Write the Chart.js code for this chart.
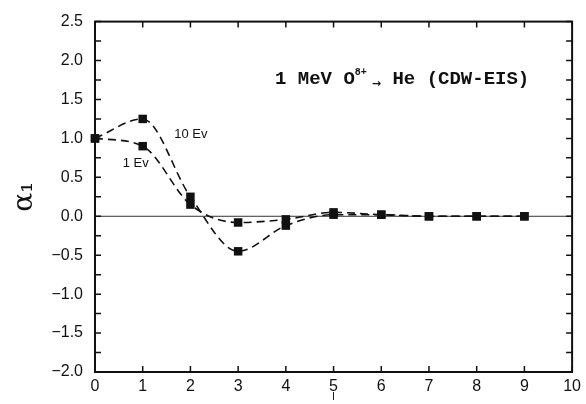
<!DOCTYPE html>
<html>
<head>
<meta charset="utf-8">
<script src="https://cdn.jsdelivr.net/npm/chart.js@4.4.1/dist/chart.umd.min.js"></script>
<style>
  html, body { margin: 0; padding: 0; background: #fff; }
  #wrap { width: 586px; height: 404px; }
</style>
</head>
<body>
<div id="wrap"><canvas id="alphaChart" width="586" height="404"></canvas></div>
<script>
// angular momentum l, and alpha_1 for the two energy resolutions
const lValues  = [0, 1, 2, 3, 4, 5, 6, 7, 8, 9];
const alpha10  = [1.0, 1.25, 0.25, -0.45, -0.12, 0.02, 0.02, 0.0, 0.0, 0.0];
const alpha1   = [1.0, 0.90, 0.15, -0.08, -0.04, 0.05, 0.02, 0.0, 0.0, 0.0];
const curveLabels = ["10 Ev", "1 Ev"];
const labelSpots  = [[1.66, 1.05], [0.58, 0.68]];

const INK = "#111";

function toPoints(ys) {
  return lValues.map((l, i) => ({ x: l, y: ys[i] }));
}

// ── frame, inward ticks, zero line and annotations ───────────
const framePlugin = {
  id: "frame",
  beforeDatasetsDraw(chart) {
    const { ctx, chartArea: a, scales } = chart;
    const y0 = scales.y.getPixelForValue(0);
    ctx.save();
    ctx.strokeStyle = "#333";
    ctx.lineWidth = 1;
    ctx.beginPath();
    ctx.moveTo(a.left, y0);
    ctx.lineTo(a.right, y0);
    ctx.stroke();
    ctx.restore();
  },
  afterDraw(chart) {
    const { ctx, chartArea: a, scales } = chart;
    ctx.save();
    ctx.strokeStyle = INK;
    ctx.lineWidth = 2;
    ctx.strokeRect(a.left, a.top, a.right - a.left, a.bottom - a.top);

    ctx.lineWidth = 1.5;
    const len = 6;
    scales.x.ticks.forEach(t => {
      const px = scales.x.getPixelForValue(t.value);
      ctx.beginPath();
      ctx.moveTo(px, a.bottom); ctx.lineTo(px, a.bottom - len);
      ctx.moveTo(px, a.top);    ctx.lineTo(px, a.top + len);
      ctx.stroke();
    });
    scales.y.ticks.forEach(t => {
      const py = scales.y.getPixelForValue(t.value);
      ctx.beginPath();
      ctx.moveTo(a.left, py);  ctx.lineTo(a.left + len, py);
      ctx.moveTo(a.right, py); ctx.lineTo(a.right - len, py);
      ctx.stroke();
    });

    // curve labels
    ctx.fillStyle = INK;
    ctx.font = "13px 'Liberation Sans'";
    ctx.textBaseline = "middle";
    ctx.textAlign = "left";
    curveLabels.forEach((txt, i) => {
      const [lx, ly] = labelSpots[i];
      ctx.fillText(txt, scales.x.getPixelForValue(lx), scales.y.getPixelForValue(ly));
    });

    // reaction annotation
    let x = 275;
    const base = 84;
    ctx.textBaseline = "alphabetic";
    ctx.font = "bold 19px 'Liberation Mono'";
    ctx.fillText("1 MeV O", x, base);
    x += ctx.measureText("1 MeV O").width;
    ctx.font = "bold 10px 'Liberation Mono'";
    ctx.fillText("8+", x, base - 9);
    x += ctx.measureText("8+").width + 5;
    ctx.font = "bold 11px 'DejaVu Sans'";
    ctx.fillText("\u2192", x, base + 3);
    x += ctx.measureText("\u2192").width;
    ctx.font = "bold 19px 'Liberation Mono'";
    ctx.fillText(" He (CDW-EIS)", x, base);
    ctx.restore();
  }
};

const lineStyle = {
  borderColor: INK,
  backgroundColor: INK,
  borderWidth: 1.6,
  borderDash: [8, 5],
  cubicInterpolationMode: "monotone",
  pointStyle: "rect",
  pointRadius: 6,
  pointBorderWidth: 0,
  clip: false
};

new Chart(document.getElementById("alphaChart"), {
  type: "line",
  data: {
    datasets: [
      { label: curveLabels[0], data: toPoints(alpha10), ...lineStyle },
      { label: curveLabels[1], data: toPoints(alpha1),  ...lineStyle }
    ]
  },
  options: {
    responsive: false,
    animation: false,
    events: [],
    layout: { padding: { top: 20, right: 9, left: 0, bottom: 0 } },
    plugins: {
      legend: { display: false },
      tooltip: { enabled: false }
    },
    scales: {
      x: {
        type: "linear",
        min: 0, max: 10,
        afterFit: s => { s.height = 32; },
        grid: { display: false, drawTicks: false },
        border: { display: false },
        ticks: {
          stepSize: 1,
          autoSkip: false,
          maxRotation: 0,
          padding: 5,
          color: INK,
          font: { family: "Liberation Sans", size: 16 }
        },
        title: {
          display: true,
          text: "l",
          color: INK,
          padding: { top: 0, bottom: 0 },
          font: { family: "Liberation Sans", size: 11 }
        }
      },
      y: {
        min: -2, max: 2.5,
        afterFit: s => { s.width = 95; },
        grid: { display: false, drawTicks: false },
        border: { display: false },
        ticks: {
          stepSize: 0.25,
          autoSkip: false,
          padding: 12,
          color: INK,
          font: { family: "Liberation Sans", size: 16 },
          callback: v => {
            const r = Math.round(v * 100) / 100;
            if (Math.abs(r * 2 - Math.round(r * 2)) > 1e-6) return "";
            return r.toFixed(1).replace("-", "\u2212");
          }
        },
        title: {
          display: true,
          text: "\u03b1\u2081",
          color: INK,
          padding: { top: 8, bottom: 0 },
          font: { family: "DejaVu Serif", size: 28 }
        }
      }
    }
  },
  plugins: [framePlugin]
});
</script>
</body>
</html>
